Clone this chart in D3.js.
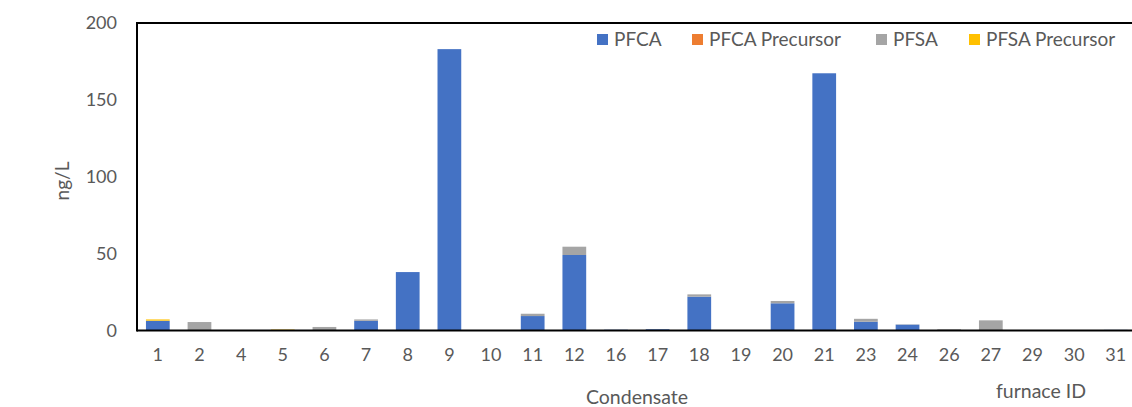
<!DOCTYPE html>
<html>
<head>
<meta charset="utf-8">
<script src="https://cdn.jsdelivr.net/npm/d3@7"></script>
<style>
  body { margin: 0; background: #fff; }
  text { font-family: Lato, "Open Sans", sans-serif; fill: #595959; }
</style>
</head>
<body>
<svg id="chart" width="1132" height="407"></svg>
<script>
const furnaceIds = ["1","2","4","5","6","7","8","9","10","11","12","16","17","18","19","20","21","23","24","26","27","29","30","31"];
const pfca          = [6.2, 0, 0, 0, 0, 6.3, 38, 183, 0, 9.4, 49.1, 0.5, 0.8, 22, 0, 17.7, 167.3, 5.7, 3.8, 0, 0, 0, 0, 0.4];
const pfcaPrecursor = [0, 0, 0, 0.3, 0, 0, 0, 0, 0, 0, 0, 0, 0, 0, 0, 0, 0, 0, 0, 0, 0, 0, 0, 0];
const pfsa          = [0.2, 5.5, 0, 0, 2.3, 0.9, 0, 0, 0, 1.5, 5.4, 0, 0, 1.5, 0, 1.5, 0, 1.9, 0.2, 0.8, 6.6, 0, 0, 0];
const pfsaPrecursor = [0.8, 0, 0, 0.3, 0, 0, 0, 0, 0, 0, 0, 0, 0, 0, 0, 0, 0, 0, 0, 0, 0, 0, 0, 0];
const seriesNames = ["PFCA", "PFCA Precursor", "PFSA", "PFSA Precursor"];
const yTicks = [0, 50, 100, 150, 200];

const colors = ["#4472C4", "#ED7D31", "#A5A5A5", "#FFC000"];

const svg = d3.select("#chart");
const plotL = 137, plotT = 23, plotB = 330.5, plotR = 1136.6;

const rows = furnaceIds.map((id, i) => ({
  id,
  "PFCA": pfca[i],
  "PFCA Precursor": pfcaPrecursor[i],
  "PFSA": pfsa[i],
  "PFSA Precursor": pfsaPrecursor[i]
}));

const x = d3.scaleBand().domain(furnaceIds).range([plotL, plotR]).paddingInner(0.43).paddingOuter(0.215);
const y = d3.scaleLinear().domain([0, 200]).range([plotB, plotT]);

const stack = d3.stack().keys(seriesNames)(rows);

// bars
svg.append("g").selectAll("g")
  .data(stack)
  .join("g")
  .attr("fill", (d, i) => colors[i])
  .selectAll("rect")
  .data(d => d)
  .join("rect")
  .attr("x", d => x(d.data.id))
  .attr("width", x.bandwidth())
  .attr("y", d => y(d[1]))
  .attr("height", d => Math.max(0, y(d[0]) - y(d[1])));

// frame lines (plot runs off the right edge)
svg.append("line").attr("x1", plotL).attr("x2", 1132).attr("y1", plotT).attr("y2", plotT)
  .attr("stroke", "#000").attr("stroke-width", 2);
svg.append("line").attr("x1", plotL).attr("x2", 1132).attr("y1", plotB).attr("y2", plotB)
  .attr("stroke", "#000").attr("stroke-width", 2);
svg.append("line").attr("x1", plotL).attr("x2", plotL).attr("y1", plotT - 1).attr("y2", plotB + 1)
  .attr("stroke", "#000").attr("stroke-width", 2);

// y axis labels
const yAxis = svg.append("g")
  .attr("transform", `translate(${plotL},0)`)
  .call(d3.axisLeft(y).tickValues(yTicks).tickSize(0).tickPadding(20));
yAxis.select(".domain").remove();
yAxis.selectAll("text").style("font-size", "18px").attr("fill", "#595959")
  .style("font-family", "Lato, sans-serif");

// x axis labels
const xAxis = svg.append("g")
  .attr("transform", `translate(0,${plotB})`)
  .call(d3.axisBottom(x).tickSize(0).tickPadding(18));
xAxis.select(".domain").remove();
xAxis.selectAll("text").style("font-size", "18px").attr("fill", "#595959")
  .style("font-family", "Lato, sans-serif");

// axis titles
svg.append("text").attr("transform", "translate(69,181) rotate(-90)")
  .attr("text-anchor", "middle").style("font-size", "19px").text("ng/L");
svg.append("text").attr("x", 637).attr("y", 404)
  .attr("text-anchor", "middle").style("font-size", "19.5px").text("Condensate");
svg.append("text").attr("x", 1041).attr("y", 398)
  .attr("text-anchor", "middle").style("font-size", "19.5px").text("furnace ID");

// legend
const legendX = [597, 692, 876, 969];
const legend = svg.append("g").selectAll("g")
  .data(seriesNames)
  .join("g")
  .attr("transform", (d, i) => `translate(${legendX[i]},34)`);
legend.append("rect").attr("width", 11).attr("height", 11).attr("fill", (d, i) => colors[i]);
legend.append("text").attr("x", 17).attr("y", 12).style("font-size", "19px").text(d => d);
</script>
</body>
</html>
